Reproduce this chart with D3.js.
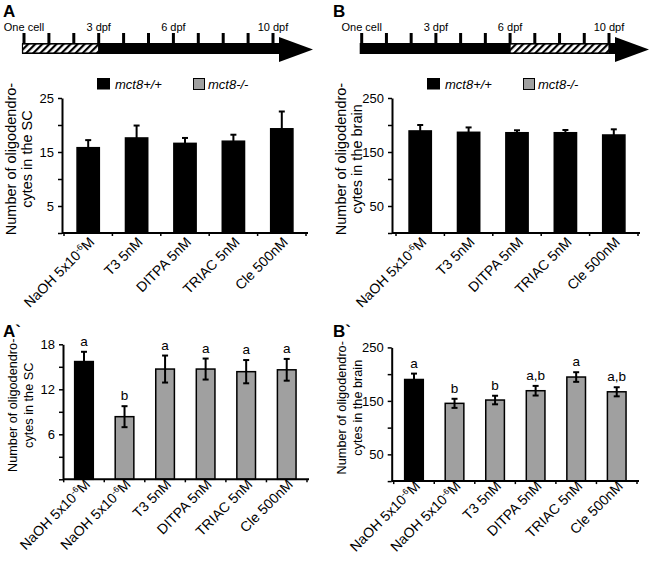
<!DOCTYPE html>
<html>
  <head>
    <script src="https://cdn.jsdelivr.net/npm/d3@7"></script>
    <style>
      body { margin: 0; background: #fff; }
      text { font-family: "Liberation Sans", Arial, sans-serif; }
    </style>
  </head>
  <body>
    <script type="text/javascript">

    // timeline (days post fertilisation)
    var timelineDays = [0, 1, 2, 3, 4, 5, 6, 7, 8, 9, 10];
    var timelineLabels = [
        {day: 0, text: "One cell"},
        {day: 3, text: "3 dpf"},
        {day: 6, text: "6 dpf"},
        {day: 10, text: "10 dpf"}
    ];
    var treatmentWindowA = [0, 3];
    var treatmentWindowB = [6, 10];

    // categories
    var topTreatments = ["NaOH 5x10-6M", "T3 5nM", "DITPA 5nM", "TRIAC 5nM", "Cle 500nM"];
    var bottomTreatments = ["NaOH 5x10-6M", "NaOH 5x10-6M", "T3 5nM", "DITPA 5nM", "TRIAC 5nM", "Cle 500nM"];
    var bottomGenotype = ["wt", "mut", "mut", "mut", "mut", "mut"];

    // A: wild type, spinal cord
    var scWtMeans = [15.8, 17.6, 16.6, 17.0, 19.3];
    var scWtErr = [1.4, 2.3, 1.0, 1.2, 3.2];
    // B: wild type, brain
    var brainWtMeans = [189, 186.5, 185.7, 185.7, 181.5];
    var brainWtErr = [11, 9, 4.5, 5, 10.5];
    // A`: spinal cord, wt control + mutants
    var scMutMeans = [15.7, 8.35, 14.7, 14.7, 14.35, 14.6];
    var scMutErr = [1.3, 1.4, 1.8, 1.4, 1.55, 1.45];
    var scLetters = ["a", "b", "a", "a", "a", "a"];
    // B`: brain, wt control + mutants
    var brainMutMeans = [190, 145.4, 151.6, 169, 194.6, 167];
    var brainMutErr = [11, 8.5, 8, 9, 9, 8.5];
    var brainLetters = ["a", "b", "b", "a,b", "a", "a,b"];

    // axis ticks
    var scTopTicks = [0, 5, 10, 15, 20, 25], scTopLabels = [5, 15, 25];
    var brainTicks = [0, 50, 100, 150, 200, 250], brainLabels = [50, 150, 250];
    var scBottomTicks = [0, 3, 6, 9, 12, 15, 18], scBottomLabels = [6, 12, 18];

    var GRAY = "#a0a0a0";

    var svg = d3.select("body").append("svg")
        .attr("width", 651)
        .attr("height", 561);

    // hatch pattern for the treatment window
    svg.append("defs").append("pattern")
        .attr("id", "hatch")
        .attr("patternUnits", "userSpaceOnUse")
        .attr("width", 5).attr("height", 5)
        .attr("patternTransform", "rotate(45)")
      .append("rect")
        .attr("width", 2.2).attr("height", 5)
        .attr("fill", "#000");

    function panelLetter(x, y, t){
        svg.append("text")
            .attr("x", x).attr("y", y)
            .style("font-size", "17px")
            .style("font-weight", "bold")
            .text(t);
    }

    function drawTimeline(x0, x10, window){
        var x = d3.scaleLinear().domain([0, 10]).range([x0, x10]);
        var g = svg.append("g");
        var barTop = 43, barBot = 54;
        var wx = x(window[0]) + (window[0] === 0 ? -1.5 : 0);
        var ww = x(window[1]) - wx;
        // black shaft + arrow head
        g.append("rect")
            .attr("x", x(0) - 2).attr("y", barTop)
            .attr("width", x(10) + 7 - x(0) + 2).attr("height", barBot - barTop)
            .attr("fill", "#000");
        g.append("path")
            .attr("d", "M" + (x(10) + 6) + ",37 L" + (x(10) + 40) + ",49.5 L" + (x(10) + 6) + ",62 Z")
            .attr("fill", "#000");
        // hatched window
        g.append("rect")
            .attr("x", wx).attr("y", barTop + 1)
            .attr("width", ww).attr("height", barBot - barTop - 2)
            .attr("fill", "#fff");
        g.append("rect")
            .attr("x", wx).attr("y", barTop + 1)
            .attr("width", ww).attr("height", barBot - barTop - 2)
            .attr("fill", "url(#hatch)")
            .attr("stroke", "#000").attr("stroke-width", 1.2);
        // day ticks
        g.selectAll(".dtick").data(timelineDays).enter().append("rect")
            .attr("x", function(d){ return x(d) - 1.5; })
            .attr("y", 33)
            .attr("width", 3).attr("height", barTop - 33)
            .attr("fill", "#000");
        g.selectAll(".dlab").data(timelineLabels).enter().append("text")
            .attr("x", function(d){ return x(d.day); })
            .attr("y", 31)
            .attr("text-anchor", "middle")
            .style("font-size", "11px")
            .text(function(d){ return d.text; });
    }

    function labelText(sel, label){
        var m = label.match(/^(.*10)(-6)(M)$/);
        if (m) {
            sel.append("tspan").text(m[1]);
            sel.append("tspan").attr("dy", -5).style("font-size", "8.5px").text(m[2]);
            sel.append("tspan").attr("dy", 5).text(m[3]);
        } else {
            sel.text(label);
        }
    }

    // one bar chart panel
    function drawBars(o){
        var g = svg.append("g");
        var idx = o.means.map(function(d, i){ return i; });
        var x = d3.scaleBand().domain(idx).range(o.band);
        var y = d3.scaleLinear().domain([0, o.ticks[o.ticks.length - 1]]).range([o.base, o.top]);
        var bw = x.bandwidth() * 0.46;

        // bars
        g.selectAll(".bar").data(o.means).enter().append("rect")
            .attr("x", function(d, i){ return x(i) + (x.bandwidth() - bw) / 2; })
            .attr("y", function(d){ return y(d); })
            .attr("width", bw)
            .attr("height", function(d){ return y(0) - y(d); })
            .attr("fill", function(d, i){ return o.fills[i]; })
            .attr("stroke", "#000")
            .attr("stroke-width", 1.5);

        // error bars
        var eb = g.selectAll(".eb").data(o.means).enter().append("g")
            .attr("transform", function(d, i){ return "translate(" + (x(i) + x.bandwidth() / 2) + ",0)"; });
        eb.append("line")
            .attr("y1", function(d, i){ return y(d - o.err[i]); })
            .attr("y2", function(d, i){ return y(d + o.err[i]); })
            .attr("stroke", "#000").attr("stroke-width", 2);
        eb.append("line")
            .attr("x1", -3).attr("x2", 3)
            .attr("y1", function(d, i){ return y(d + o.err[i]); })
            .attr("y2", function(d, i){ return y(d + o.err[i]); })
            .attr("stroke", "#000").attr("stroke-width", 2);
        eb.append("line")
            .attr("x1", -3).attr("x2", 3)
            .attr("y1", function(d, i){ return y(d - o.err[i]); })
            .attr("y2", function(d, i){ return y(d - o.err[i]); })
            .attr("stroke", "#000").attr("stroke-width", 2);

        // significance letters
        if (o.letters) {
            eb.append("text")
                .attr("y", function(d, i){ return y(d + o.err[i]) - 6; })
                .attr("text-anchor", "middle")
                .style("font-size", "13.5px")
                .text(function(d, i){ return o.letters[i]; });
        }

        // y axis
        var yAxis = g.append("g")
            .attr("transform", "translate(" + o.axisX + ",0)")
            .call(d3.axisLeft(y)
                .tickValues(o.ticks)
                .tickSize(4)
                .tickSizeOuter(0)
                .tickFormat(function(d){ return o.labels.indexOf(d) >= 0 ? d : ""; }));
        yAxis.select(".domain").attr("stroke-width", 2);
        yAxis.selectAll(".tick line").attr("stroke-width", 1.5);
        yAxis.selectAll(".tick text")
            .attr("x", -8)
            .style("font-family", "'Liberation Sans', Arial, sans-serif")
            .style("font-size", "13px");

        // x axis: line plus ticks on the band boundaries
        g.append("line")
            .attr("x1", o.axisX).attr("x2", o.band[1] + 2)
            .attr("y1", y(0)).attr("y2", y(0))
            .attr("stroke", "#000").attr("stroke-width", 2);
        var bounds = idx.map(function(i){ return x(i); }).concat([o.band[1]]);
        g.selectAll(".xt").data(bounds).enter().append("line")
            .attr("x1", function(d){ return d; }).attr("x2", function(d){ return d; })
            .attr("y1", y(0)).attr("y2", y(0) + 3)
            .attr("stroke", "#000").attr("stroke-width", 1.5);

        // category labels
        g.selectAll(".xl").data(o.cats).enter().append("text")
            .attr("text-anchor", "end")
            .attr("transform", function(d, i){
                return "translate(" + (x(i) + x.bandwidth() / 2 + 7) + "," + (y(0) + o.labelDy) + ") rotate(-45)";
            })
            .style("font-size", "14px")
            .each(function(d){ labelText(d3.select(this), d); });

        // y title (two lines)
        var cy = (o.base + o.top) / 2 - 6.5;
        [o.title1, o.title2].forEach(function(t, k){
            g.append("text")
                .attr("transform", "translate(" + (o.axisX - 46 + k * 16) + "," + cy + ") rotate(-90)")
                .attr("text-anchor", "middle")
                .style("font-size", o.titleSize)
                .text(t);
        });
    }

    function drawLegend(x0){
        var g = svg.append("g");
        g.append("rect").attr("x", x0).attr("y", 78).attr("width", 13).attr("height", 11.5).attr("fill", "#000");
        g.append("text").attr("x", x0 + 18).attr("y", 88.5)
            .style("font-size", "13px").style("font-style", "italic").text("mct8+/+");
        g.append("rect").attr("x", x0 + 96.5).attr("y", 78.5).attr("width", 11).attr("height", 11)
            .attr("fill", GRAY).attr("stroke", "#000").attr("stroke-width", 1);
        g.append("text").attr("x", x0 + 111).attr("y", 88.5)
            .style("font-size", "13px").style("font-style", "italic").text("mct8-/-");
    }

    panelLetter(3, 17, "A");
    panelLetter(333, 17, "B");
    panelLetter(3, 337, "A`");
    panelLetter(333, 337, "B`");

    drawTimeline(24, 273, treatmentWindowA);
    drawTimeline(361.7, 609, treatmentWindowB);

    drawLegend(97);
    drawLegend(427);

    var topFills = scWtMeans.map(function(){ return "#000"; });
    var bottomFills = bottomGenotype.map(function(g){ return g === "wt" ? "#000" : GRAY; });

    drawBars({
        means: scWtMeans, err: scWtErr, fills: topFills, cats: topTreatments,
        axisX: 62, band: [64, 306], base: 233, top: 98, labelDy: 10,
        ticks: scTopTicks, labels: scTopLabels, titleSize: "14.5px",
        title1: "Number of oligodendro-", title2: "cytes in the SC"
    });
    drawBars({
        means: brainWtMeans, err: brainWtErr, fills: topFills, cats: topTreatments,
        axisX: 392, band: [396, 638], base: 233, top: 98, labelDy: 10,
        ticks: brainTicks, labels: brainLabels, titleSize: "14.5px",
        title1: "Number of oligodendro-", title2: "cytes in the brain"
    });
    drawBars({
        means: scMutMeans, err: scMutErr, fills: bottomFills, cats: bottomTreatments,
        axisX: 63, band: [63.7, 307], base: 479.3, top: 344.3, labelDy: 6,
        ticks: scBottomTicks, labels: scBottomLabels, letters: scLetters, titleSize: "12.7px",
        title1: "Number of oligodendro-", title2: "cytes in the SC"
    });
    drawBars({
        means: brainMutMeans, err: brainMutErr, fills: bottomFills, cats: bottomTreatments,
        axisX: 391.7, band: [393.7, 637], base: 481.1, top: 347.4, labelDy: 6,
        ticks: brainTicks, labels: brainLabels, letters: brainLetters, titleSize: "12.7px",
        title1: "Number of oligodendro-", title2: "cytes in the brain"
    });

    </script>
  </body>
</html>
